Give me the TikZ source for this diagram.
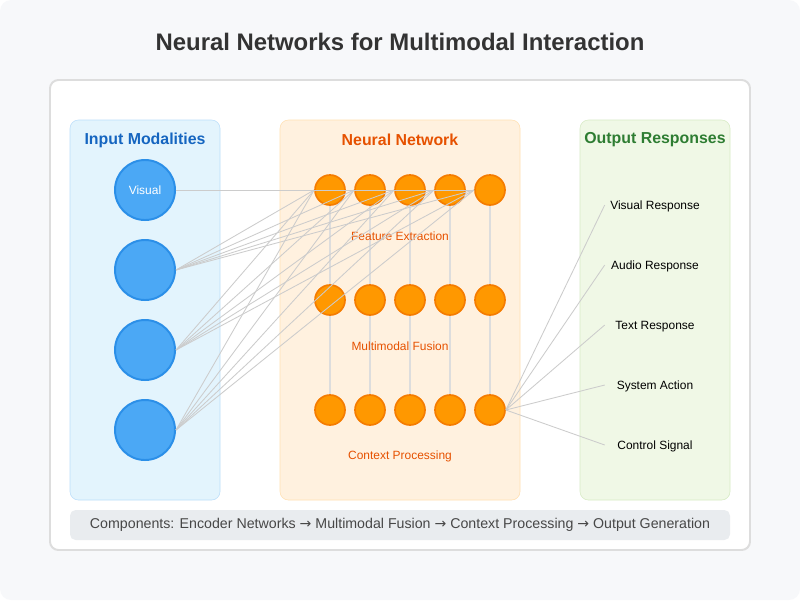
\documentclass[tikz,border=0pt]{standalone}
\usepackage{fontspec}
\setmainfont{Liberation Sans}
\newfontfamily\arrowfont{DejaVu Sans}
\usepackage{xcolor}
\usepackage{tikz}
\usetikzlibrary{positioning,calc}
\definecolor{pagebg}{HTML}{F7F8FA}
\definecolor{panelline}{HTML}{DDDDDD}
\definecolor{inbg}{HTML}{E3F4FD}
\definecolor{inline}{HTML}{BBDEFB}
\definecolor{inblue}{HTML}{1565C0}
\definecolor{infill}{HTML}{4BA8F5}
\definecolor{indraw}{HTML}{2B8FE8}
\definecolor{nnbg}{HTML}{FFF1DF}
\definecolor{nnline}{HTML}{FFE0B2}
\definecolor{nnorange}{HTML}{E65100}
\definecolor{nnfill}{HTML}{FF9800}
\definecolor{nndraw}{HTML}{F57C00}
\definecolor{outbg}{HTML}{F0F8E6}
\definecolor{outline}{HTML}{D7EBC4}
\definecolor{outgreen}{HTML}{2E7D32}
\definecolor{footbg}{HTML}{E9ECEF}
\definecolor{wirecol}{HTML}{CCCCCC}
\definecolor{stemcol}{HTML}{DDDDDD}

\tikzset{
  inputnode/.style={circle, fill=infill, draw=indraw, line width=1.4pt, minimum size=1.5cm, inner sep=0pt, text=white, font=\fontsize{8.5}{10}\selectfont},
  neuron/.style={circle, fill=nnfill, draw=nndraw, line width=1.2pt, minimum size=0.75cm, inner sep=0pt},
  wire/.style={draw=wirecol, line width=0.6pt},
  stem/.style={draw=stemcol, line width=1.4pt},
  colhead/.style={font=\bfseries\fontsize{11.3}{13}\selectfont},
  layerlabel/.style={text=nnorange, font=\fontsize{8.5}{10}\selectfont},
  resplabel/.style={minimum width=2.5cm, inner sep=0pt, font=\fontsize{8.5}{10}\selectfont}
}

\begin{document}
\begin{tikzpicture}[x=0.025cm, y=-0.025cm]
\fill[white] (0,0) rectangle (800,600);
\fill[pagebg, rounded corners=8pt] (0,0) rectangle (800,600);
\useasboundingbox (0,0) rectangle (800,600);

\node[font=\bfseries\fontsize{17}{20}\selectfont, text=black!80] (title) at (400,42) {Neural Networks for Multimodal Interaction};

\draw[rounded corners=6pt, fill=white, draw=panelline, line width=1.4pt] (50,80) rectangle (750,550);

% columns
\draw[rounded corners=6pt, fill=inbg, draw=inline] (70,120) rectangle (220,500);
\draw[rounded corners=6pt, fill=nnbg, draw=nnline] (280,120) rectangle (520,500);
\draw[rounded corners=6pt, fill=outbg, draw=outline] (580,120) rectangle (730,500);
\node[colhead, text=inblue] (inhead) at (145,140) {Input Modalities};
\node[colhead, text=nnorange] (nnhead) at (400,140) {Neural Network};
\node[colhead, text=outgreen] (outhead) at (655,140) {Output Responses};

% input modalities
\node[inputnode] (in1) at (145,190) {Visual};
\node[inputnode] (in2) at (145,270) {};
\node[inputnode] (in3) at (145,350) {};
\node[inputnode] (in4) at (145,430) {};

% neurons, three layers
\foreach \k/\x in {1/330,2/370,3/410,4/450,5/490} {
  \node[neuron] (fe\k) at (\x,190) {};
  \node[neuron] (mf\k) at (\x,300) {};
  \node[neuron] (cp\k) at (\x,410) {};
  \draw[stem] (fe\k.south) -- (mf\k.north);
  \draw[stem] (mf\k.south) -- (cp\k.north);
}
\node[layerlabel] (felabel) at (400,236) {Feature Extraction};
\node[layerlabel] (mflabel) at (400,346) {Multimodal Fusion};
\node[layerlabel] (cplabel) at (400,456) {Context Processing};

% input to first layer
\foreach \i in {1,2,3,4} {
  \foreach \k in {1,...,5} {
    \draw[wire] (in\i.east) -- (fe\k.west);
  }
}

% output responses
\node[resplabel] (r1) at (655,206.5) {Visual Response};
\node[resplabel] (r2) at (655,266.5) {Audio Response};
\node[resplabel] (r3) at (655,326.5) {Text Response};
\node[resplabel] (r4) at (655,386.5) {System Action};
\node[resplabel] (r5) at (655,446.5) {Control Signal};
\foreach \r in {1,...,5} {
  \draw[wire] (cp5.east) -- ([yshift=1.5*0.025cm]r\r.west);
}

% footer
\draw[rounded corners=4pt, fill=footbg, draw=none] (70,510) rectangle (730,540);
\node[text=black!72, font=\fontsize{10.1}{12}\selectfont] (footer) at (400,525) {Components: Encoder Networks {\arrowfont\fontsize{10}{12}\selectfont →} Multimodal Fusion {\arrowfont\fontsize{10}{12}\selectfont →} Context Processing {\arrowfont\fontsize{10}{12}\selectfont →} Output Generation};
\end{tikzpicture}
\end{document}
